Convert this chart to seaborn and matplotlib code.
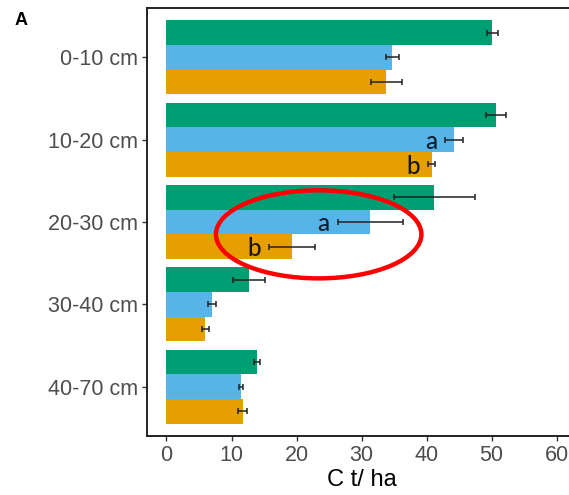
import numpy as np
import pandas as pd
import matplotlib
matplotlib.use("Agg")
import matplotlib.pyplot as plt
from matplotlib.patches import Ellipse
import seaborn as sns

# Soil depth layers and carbon stocks (C t/ha) for the three treatments
depths = ["0-10 cm", "10-20 cm", "20-30 cm", "30-40 cm", "40-70 cm"]
treatments = ["T1", "T2", "T3"]
stock_t1 = [50.1, 50.7, 41.2, 12.7, 13.9]
stock_t2 = [34.7, 44.2, 31.3, 7.0, 11.5]
stock_t3 = [33.8, 40.8, 19.3, 6.0, 11.7]
err_t1 = [0.85, 1.5, 6.2, 2.4, 0.5]
err_t2 = [1.0, 1.35, 5.0, 0.55, 0.3]
err_t3 = [2.4, 0.55, 3.5, 0.6, 0.7]
# significance letters: (depth, treatment, letter)
letters = [("10-20 cm", "T2", "a"), ("10-20 cm", "T3", "b"),
           ("20-30 cm", "T2", "a"), ("20-30 cm", "T3", "b")]

palette = ["#009E73", "#56B4E9", "#E69F00"]

df = pd.DataFrame({
    "depth": depths * 3,
    "treatment": sum([[t] * len(depths) for t in treatments], []),
    "stock": stock_t1 + stock_t2 + stock_t3,
    "err": err_t1 + err_t2 + err_t3,
})

sns.set_style("white")
plt.rcParams["font.family"] = ["Liberation Sans", "DejaVu Sans"]

fig = plt.figure(figsize=(5.69, 4.95), dpi=100)
ax = fig.add_axes([0.2583, 0.1192, 0.7543, 0.8646])

sns.barplot(data=df, y="depth", x="stock", hue="treatment", order=depths,
            hue_order=treatments, palette=palette, orient="h", width=0.9,
            errorbar=None, saturation=1, linewidth=0, ax=ax, legend=False)

# error bars and letters placed on the bars seaborn drew
for cont, t in zip(ax.containers, treatments):
    sub = df[df["treatment"] == t].set_index("depth").loc[depths]
    ys = [b.get_y() + b.get_height() / 2 for b in cont]
    xs = [b.get_width() for b in cont]
    ax.errorbar(xs, ys, xerr=sub["err"].values, fmt="none", ecolor="#222222",
                elinewidth=1.1, capsize=2.2, capthick=1.1, zorder=4)
    for d, tt, lab in letters:
        if tt != t:
            continue
        i = depths.index(d)
        x_left = sub.loc[d, "stock"] - sub.loc[d, "err"] - 1.2
        ax.text(x_left, ys[i] + 0.02, lab, ha="right", va="center",
                fontsize=17.5, family=["Lato", "DejaVu Sans"],
                fontweight="medium",
                color="#10202e" if lab == "a" else "#1c1608", zorder=5)

# highlight of the 20-30 cm differences
ax.add_patch(Ellipse((23.4, 2.15), width=31.6, height=1.07, fill=False,
                     edgecolor="#FF0000", linewidth=3.2, zorder=6))

ax.set_xlim(-3, 63)
ax.set_ylim(4.6, -0.6)
ax.set_xticks([0, 10, 20, 30, 40, 50, 60])
ax.set_xlabel("C t/ ha", fontsize=17, color="black", labelpad=2)
ax.set_ylabel("")
ax.tick_params(axis="both", which="major", length=3.5, width=1,
               color="#333333", labelsize=15.5, labelcolor="#4D4D4D", pad=3,
               left=True, bottom=True)
for s in ax.spines.values():
    s.set_color("#222222")
    s.set_linewidth(1.4)
    s.set_visible(True)
ax.spines["right"].set_visible(False)

fig.text(0.037, 0.958, "A", fontsize=13, fontweight="bold", ha="center",
         va="center", color="black")

fig.savefig("out.png", dpi=100)
